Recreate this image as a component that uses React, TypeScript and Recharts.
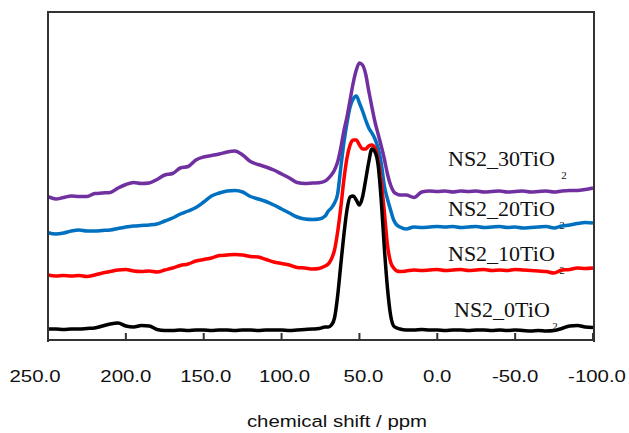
import React from "react";
import { LineChart, Line, XAxis, YAxis, Customized } from "recharts";

// chemical shift grid (ppm), denser across the main resonance
const ppm = [
  250, 245, 240, 235, 230, 225, 220, 215, 210, 205, 200, 195, 190, 185, 180, 175, 170, 165, 160, 155,
  150, 145, 140, 135, 130, 125, 120, 115, 110, 105, 100, 95, 90, 85, 80, 76, 72, 70, 68, 66,
  64, 62, 60, 58, 56, 54, 52, 50, 48, 46, 44, 42, 40, 38, 36, 34, 32, 30, 28, 26,
  24, 20, 15, 10, 5, 0, -5, -10, -15, -20, -25, -30, -35, -40, -45, -50, -55, -60, -65, -70,
  -75, -80, -85, -90, -95, -100,
];

// stacked intensities (arbitrary units, offsets included)
const ns2_0 = [
  11, 11, 10.5, 11, 11, 11.5, 12, 14, 16, 17, 14, 13, 14.5, 14, 10.5, 9.5, 9.5, 10, 9.5, 10,
  10, 9.5, 10, 10, 9.5, 10, 10, 9.5, 10, 10, 10, 9.5, 10, 10.5, 11, 11.5, 13, 13, 15, 22,
  44, 75, 105, 130, 143, 144, 140, 135, 143, 160, 178, 191, 188, 175, 140, 92, 52, 25, 14, 12,
  11, 10, 10, 10.5, 10, 10, 9.5, 10, 10, 9.5, 10, 10, 9.5, 10, 9.5, 10, 9.5, 9, 9.5, 9,
  9.5, 11.5, 14, 14.5, 13, 12.5,
];
const ns2_10 = [
  65, 64, 64.5, 64, 64.5, 63.5, 65, 67, 68.5, 70, 70.5, 69, 68.5, 69, 68, 70, 72, 74.5, 76, 79,
  80.5, 82, 84.5, 85, 85.5, 85, 83.5, 83, 80.5, 78, 76.5, 75, 72.5, 72, 71, 71.5, 74, 76, 81, 90,
  108, 132, 160, 182, 195, 200, 200, 195, 191, 191, 194, 195, 192, 180, 158, 128, 95, 78, 72, 69,
  68.5, 69, 70, 69.5, 70, 70.5, 69.5, 70, 70.5, 69.5, 70, 70.5, 69.5, 70, 69.5, 70.5, 70, 69.5, 69, 68.5,
  67, 70, 70.5, 72, 71.5, 72,
];
const ns2_20 = [
  107.3, 106, 107, 109, 110, 109, 109, 109.5, 110, 111.5, 113, 114, 114.5, 115, 116, 119, 122, 126, 129, 132.5,
  138, 144, 147, 149, 149.5, 148, 143.5, 141, 138.5, 135, 131, 127, 123, 121, 120.5, 121, 124, 129, 132, 137,
  146, 172, 197, 217, 233, 241, 244, 237, 229, 220, 212, 207, 201, 192, 177, 154, 141, 130, 120, 115,
  113, 111, 113, 112.5, 113, 113.5, 113, 113.5, 112.5, 113, 113.5, 112.5, 113, 113.5, 112.5, 113, 112, 112.5, 113, 113.5,
  112, 114, 115, 116.5, 117.5, 117,
];
const ns2_30 = [
  143.3, 141, 142.5, 144, 143.5, 143.5, 146.5, 147, 147.5, 152, 155.5, 157.5, 156.5, 157, 160.5, 165, 166.5, 172, 173.5, 180,
  183, 184.5, 186, 188, 189, 185, 178.5, 175.5, 173, 170, 166, 162, 157.5, 156.5, 157, 157.3, 159, 161.5, 165, 170,
  178, 192, 209, 223, 240, 257, 270, 277, 275, 266, 249, 233, 218, 206, 194, 181, 166, 155, 148.3, 146,
  145, 145, 142.5, 148, 149, 148.5, 149, 148, 149, 148.5, 149, 148, 148.5, 149, 148, 148.5, 149, 148, 148.5, 149,
  148, 149, 149.5, 149.5, 150.5, 152,
];

const xTicks = [250, 200, 150, 100, 50, 0, -50, -100];

const data = ppm.map((p, i) => ({
  ppm: p,
  ns2_0: ns2_0[i],
  ns2_10: ns2_10[i],
  ns2_20: ns2_20[i],
  ns2_30: ns2_30[i],
}));

const tickShift: Record<number, number> = { 250: -13, 150: 2, 100: 3, 50: 4, "-100": 4 };

function XTick(props: any) {
  const { x, y, payload } = props;
  const dx = tickShift[payload.value] || 0;
  return (
    <g>
      <rect x={x - 1} y={y - 7} width={2} height={7} fill="#333" />
      <text
        transform={`translate(${x + dx},${y + 42}) scale(1.2,1)`}
        textAnchor="middle"
        fontFamily="'Liberation Sans', Arial, sans-serif"
        fontSize={17}
        fill="#111"
      >
        {payload.value.toFixed(1)}
      </text>
    </g>
  );
}

function Labels() {
  const serif = "'Liberation Serif', 'Times New Roman', serif";
  const item = (name: string, x: number, y: number, sx: number, sy: number) => (
    <g key={name}>
      <text x={x} y={y} fontFamily={serif} fontSize={22} fill="#111">
        {name}
      </text>
      <text x={sx} y={sy} fontFamily={serif} fontSize={11} fill="#111" textAnchor="middle">
        2
      </text>
    </g>
  );
  return (
    <g>
      {item("NS2_30TiO", 448, 166, 564, 179)}
      {item("NS2_20TiO", 448, 216, 562, 229)}
      {item("NS2_10TiO", 448, 261, 562, 274)}
      {item("NS2_0TiO", 454, 317, 555, 330)}
      <text
        transform="translate(337,427) scale(1.2,1)"
        textAnchor="middle"
        fontFamily="'Liberation Sans', Arial, sans-serif"
        fontSize={17}
        fill="#111"
      >
        chemical shift / ppm
      </text>
    </g>
  );
}

export default function App() {
  return (
    <div style={{ position: "absolute", left: 0, top: 0, background: "#fff", width: 629, height: 433 }}>
      <LineChart width={629} height={433} data={data} margin={{ top: 12, right: 36, left: 48, bottom: 33 }}>
        <XAxis
          dataKey="ppm"
          type="number"
          domain={[-100, 250]}
          reversed
          ticks={xTicks}
          interval={0}
          height={60}
          tickSize={0}
          tickMargin={0}
          tickLine={false}
          axisLine={{ stroke: "#333", strokeWidth: 2 }}
          tick={<XTick />}
        />
        <YAxis hide type="number" domain={[0, 328]} />
        <Line dataKey="ns2_20" type="monotone" stroke="#0070C0" strokeWidth={3.5} dot={false} isAnimationActive={false} />
        <Line dataKey="ns2_30" type="monotone" stroke="#7030A0" strokeWidth={3.5} dot={false} isAnimationActive={false} />
        <Line dataKey="ns2_10" type="monotone" stroke="#FF0000" strokeWidth={3.5} dot={false} isAnimationActive={false} />
        <Line dataKey="ns2_0" type="monotone" stroke="#000000" strokeWidth={3.5} dot={false} isAnimationActive={false} />
        <Customized component={Labels} />
      </LineChart>
      {/* plot frame: left, top and right edges */}
      <div
        style={{
          position: "absolute",
          left: 47,
          top: 11,
          width: 544,
          height: 329,
          borderLeft: "2px solid #333",
          borderTop: "2px solid #333",
          borderRight: "2px solid #333",
          pointerEvents: "none",
        }}
      />
    </div>
  );
}
